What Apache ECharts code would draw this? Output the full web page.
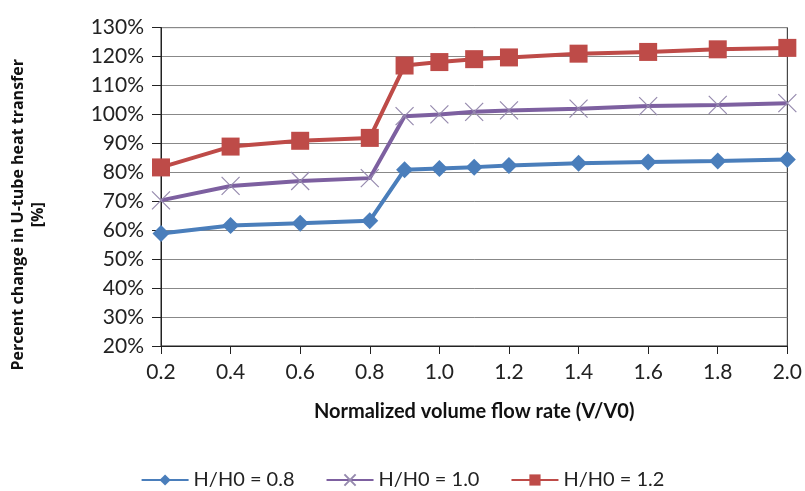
<!DOCTYPE html>
<html>
<head>
<meta charset="utf-8">
<script src="https://cdn.jsdelivr.net/npm/echarts@6/dist/echarts.min.js"></script>
<style>
  html, body { margin: 0; padding: 0; background: #fff; }
  #main { width: 805px; height: 491px; }
</style>
</head>
<body>
<div id="main"></div>
<script>
// flow rate points (V/V0)
var flowRates = [0.2, 0.4, 0.6, 0.8, 0.9, 1.0, 1.1, 1.2, 1.4, 1.6, 1.8, 2.0];
var seriesNames = ['H/H0 = 0.8', 'H/H0 = 1.0', 'H/H0 = 1.2'];
var h08 = [58.9, 61.6, 62.4, 63.3, 80.9, 81.3, 81.8, 82.4, 83.1, 83.6, 83.9, 84.4];
var h10 = [70.3, 75.3, 77.0, 78.0, 99.4, 100.0, 100.9, 101.4, 102.0, 102.9, 103.3, 103.9];
var h12 = [81.7, 88.9, 90.9, 91.9, 116.9, 118.1, 119.1, 119.7, 121.0, 121.6, 122.5, 123.0];

var myChart = echarts.init(document.getElementById('main'));

var font = 'Lato, "Open Sans", sans-serif';
var xSymbol = 'path://M0,0 L10,10 M10,0 L0,10';

function pairs(vals) {
    return flowRates.map(function (x, i) { return [x, vals[i]]; });
}

option = {
    animation: false,
    grid: {
        left: 147,
        right: 17,
        top: 16,
        bottom: 145,
        show: true,
        borderColor: '#222',
        borderWidth: 1
    },
    legend: {
        top: 465,
        left: 'center',
        itemWidth: 47,
        itemHeight: 14,
        itemGap: 31,
        textStyle: { fontFamily: font, fontSize: 20, color: '#222' },
        data: seriesNames
    },
    xAxis: {
        type: 'value',
        min: 0.2,
        max: 2.0,
        interval: 0.2,
        name: 'Normalized volume flow rate (V/V0)',
        nameLocation: 'middle',
        nameGap: 56,
        nameTextStyle: { fontFamily: font, fontSize: 20, fontWeight: 'bold', color: '#111' },
        axisLine: { lineStyle: { color: '#222', width: 1 } },
        axisTick: { show: true, inside: false, length: 8, lineStyle: { color: '#222' } },
        axisLabel: {
            fontFamily: font, fontSize: 21, color: '#222', margin: 16,
            formatter: function (v) { return v.toFixed(1); }
        },
        splitLine: { show: false }
    },
    yAxis: {
        type: 'value',
        min: 20,
        max: 130,
        interval: 10,
        name: 'Percent change in U-tube heat transfer\n[%]',
        nameLocation: 'middle',
        nameRotate: 90,
        nameGap: 113,
        nameTextStyle: {
            fontFamily: '"Open Sans", sans-serif', fontSize: 16, fontWeight: 'bold',
            color: '#111', lineHeight: 20, padding: [0, 56, 0, 0]
        },
        axisLine: { show: true, lineStyle: { color: '#222', width: 1 } },
        axisTick: { show: true, length: 9, lineStyle: { color: '#222' } },
        axisLabel: {
            fontFamily: font, fontSize: 21, color: '#222', margin: 17,
            formatter: '{value}%'
        },
        splitLine: { show: true, lineStyle: { color: '#888', width: 1 } }
    },
    series: [
        {
            name: seriesNames[0],
            type: 'line',
            data: pairs(h08),
            symbol: 'diamond',
            symbolSize: 17,
            lineStyle: { width: 4, color: '#4a7ebb' },
            itemStyle: { color: '#4a7ebb' }
        },
        {
            name: seriesNames[1],
            type: 'line',
            data: pairs(h10),
            symbol: xSymbol,
            symbolSize: 18,
            lineStyle: { width: 4, color: '#7d60a0' },
            itemStyle: { color: 'none', borderColor: '#968aae', borderWidth: 1.2 }
        },
        {
            name: seriesNames[2],
            type: 'line',
            data: pairs(h12),
            symbol: 'rect',
            symbolSize: 18,
            lineStyle: { width: 4, color: '#be4b48' },
            itemStyle: { color: '#be4b48' }
        }
    ]
};
myChart.setOption(option);
</script>
</body>
</html>
